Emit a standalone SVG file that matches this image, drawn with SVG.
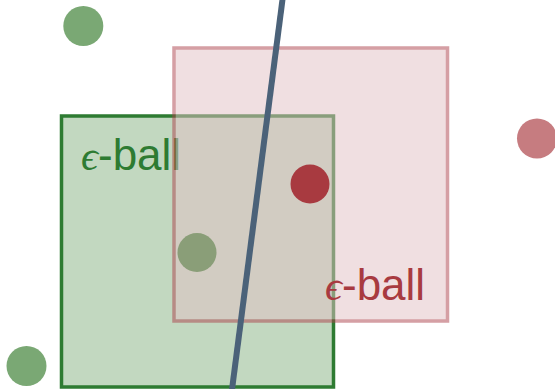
<svg xmlns="http://www.w3.org/2000/svg" width="555" height="389" viewBox="0 0 555 389">
  <style>
    .sans { font-family: "Liberation Sans", Arial, sans-serif; font-size: 44px; }
    .eps { font-family: "Liberation Serif", "DejaVu Serif", serif; font-style: italic; font-size: 42px; }
    .green-txt { fill: #2e7b32; }
    .red-txt { fill: #a83a40; }
  </style>
  <rect width="555" height="389" fill="#ffffff"/>
  <g id="green-ball">
    <rect x="61.5" y="116" width="272" height="271" fill="#c2d8c0" stroke="#2e7b32" stroke-width="3.5"/>
    <text class="green-txt" y="169.5"><tspan class="eps" x="81">ϵ</tspan><tspan class="sans" x="98">-ball</tspan></text>
  </g>
  <g id="red-ball" opacity="0.5">
    <rect x="174" y="48" width="273.5" height="273" fill="#e3c1c5" stroke="#ad414b" stroke-width="3.5"/>
  </g>
  <g id="red-label">
    <text class="red-txt" y="299.5"><tspan class="eps" x="325">ϵ</tspan><tspan class="sans" x="342">-ball</tspan></text>
  </g>
  <g id="connectors">
    <line x1="282.7" y1="-2" x2="231.8" y2="391" stroke="#4b6279" stroke-width="6"/>
  </g>
  <g id="dot-green-1"><circle cx="83.3" cy="26" r="20" fill="#7aa874"/></g>
  <g id="dot-green-2"><circle cx="26.5" cy="366" r="20" fill="#7aa874"/></g>
  <g id="dot-green-3"><circle cx="197" cy="252.5" r="19.5" fill="#8a9e78"/></g>
  <g id="dot-red-1"><circle cx="310" cy="184" r="19.5" fill="#a83a40"/></g>
  <g id="dot-red-2"><circle cx="537" cy="138.5" r="20" fill="#c67c80"/></g>
</svg>
